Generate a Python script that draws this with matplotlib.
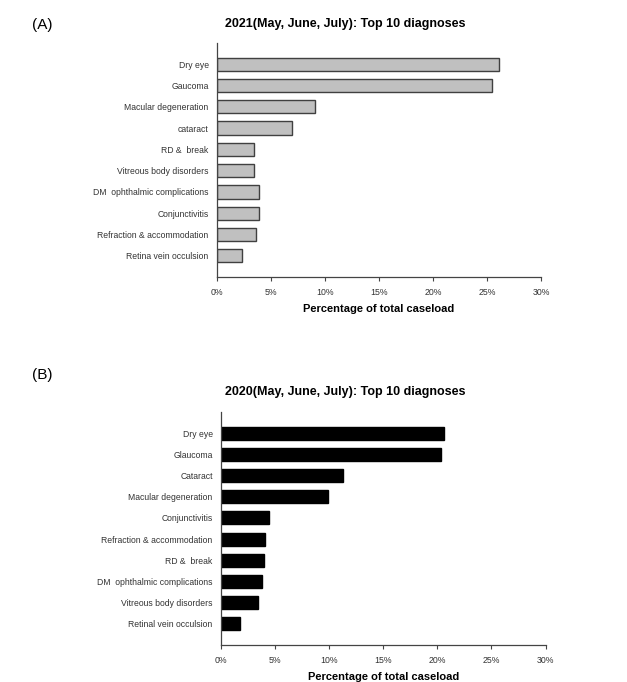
import numpy as np
from matplotlib import pyplot as plt

# panel A: 2021
cats_2021 = ['Dry eye', 'Gaucoma', 'Macular degeneration', 'cataract', 'RD &  break',
             'Vitreous body disorders', 'DM  ophthalmic complications', 'Conjunctivitis',
             'Refraction & accommodation', 'Retina vein occulsion']
vals_2021 = [26.1, 25.45, 9.1, 6.9, 3.4, 3.45, 3.9, 3.85, 3.65, 2.3]

# panel B: 2020
cats_2020 = ['Dry eye', 'Glaucoma', 'Cataract', 'Macular degeneration', 'Conjunctivitis',
             'Refraction & accommodation', 'RD &  break', 'DM  ophthalmic complications',
             'Vitreous body disorders', 'Retinal vein occulsion']
vals_2020 = [20.6, 20.3, 11.3, 9.85, 4.45, 4.05, 4.0, 3.75, 3.45, 1.8]

xticks = [0, 5, 10, 15, 20, 25, 30]
xticklabels = ['0%', '5%', '10%', '15%', '20%', '25%', '30%']

plt.rcParams['font.family'] = ['Liberation Sans', 'DejaVu Sans']

W, H = 627, 682
fig = plt.figure(figsize=(W / 100, H / 100), dpi=100)


def px_axes(left, right, top, bottom):
    return fig.add_axes([left / W, 1 - bottom / H, (right - left) / W, (bottom - top) / H])


def panel(ax, cats, vals, face, edge, title, title_y):
    y = np.arange(len(cats))
    ax.barh(y, vals, height=0.62, color=face, edgecolor=edge, linewidth=1.0)
    ax.set_ylim(len(cats), -1)
    ax.set_xlim(0, 30)
    ax.set_yticks(y)
    ax.set_yticklabels(cats, fontsize=6.2, color='#333333')
    ax.set_xticks(xticks)
    ax.set_xticklabels(xticklabels, fontsize=6.3, color='#333333')
    ax.tick_params(axis='y', length=0, pad=6)
    ax.tick_params(axis='x', length=3, width=0.8, color='#444444', pad=5)
    for s in ['top', 'right']:
        ax.spines[s].set_visible(False)
    for s in ['left', 'bottom']:
        ax.spines[s].set_color('#444444')
        ax.spines[s].set_linewidth(0.9)
    ax.set_xlabel('Percentage of total caseload', fontsize=8, fontweight='bold', labelpad=5)
    fig.text(345 / W, 1 - title_y / H, title, fontsize=9, fontweight='bold',
             ha='center', va='center')


axA = px_axes(217, 541, 43, 277)
panel(axA, cats_2021, vals_2021, '#c0c0c0', '#404040',
      '2021(May, June, July): Top 10 diagnoses', 24)

axB = px_axes(221, 545.5, 412, 645)
panel(axB, cats_2020, vals_2020, 'black', 'black',
      '2020(May, June, July): Top 10 diagnoses', 392)

fig.text(32 / W, 1 - 25 / H, '(A)', fontsize=11, va='center', ha='left')
fig.text(32 / W, 1 - 375 / H, '(B)', fontsize=11, va='center', ha='left')

fig.savefig('out.png', dpi=100, facecolor='white')
